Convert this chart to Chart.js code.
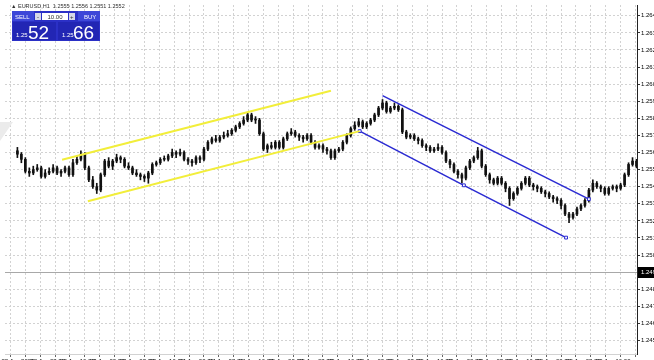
<!DOCTYPE html>
<html>
<head>
<meta charset="utf-8">
<script src="https://cdn.jsdelivr.net/npm/chart.js@4.4.1/dist/chart.umd.min.js"></script>
<style>
    html, body { margin: 0; padding: 0; background: #fff; }
    #wrap { width: 654px; height: 360px; position: relative; }
</style>
</head>
<body>
<div id="wrap"><canvas id="chart" width="654" height="360"></canvas></div>
<script>
// H1 bars (one value per bar)
const opens = [
    1.2561,1.2559,1.2556,1.2549,1.2548,1.2550,1.2551,1.2546,1.2548,1.2549,
    1.2551,1.2548,1.2549,1.2551,1.2547,1.2554,1.2556,1.2559,1.2551,1.2544,
    1.2540,1.2538,1.2547,1.2555,1.2552,1.2555,1.2557,1.2556,1.2552,1.2551,
    1.2548,1.2547,1.2546,1.2545,1.2548,1.2553,1.2554,1.2556,1.2556,1.2558,
    1.2560,1.2559,1.2560,1.2556,1.2555,1.2554,1.2557,1.2556,1.2562,1.2566,
    1.2568,1.2567,1.2569,1.2570,1.2571,1.2573,1.2575,1.2577,1.2579,1.2582,
    1.2579,1.2579,1.2571,1.2562,1.2564,1.2563,1.2566,1.2563,1.2568,1.2571,
    1.2572,1.2570,1.2569,1.2568,1.2570,1.2566,1.2563,1.2564,1.2562,1.2561,
    1.2557,1.2561,1.2562,1.2566,1.2570,1.2574,1.2576,1.2578,1.2575,1.2577,
    1.2579,1.2582,1.2586,1.2589,1.2584,1.2586,1.2587,1.2585,1.2572,1.2569,
    1.2570,1.2568,1.2567,1.2564,1.2563,1.2561,1.2562,1.2563,1.2560,1.2555,
    1.2553,1.2549,1.2547,1.2545,1.2551,1.2555,1.2557,1.2561,1.2552,1.2547,
    1.2544,1.2542,1.2545,1.2542,1.2539,1.2533,1.2536,1.2539,1.2542,1.2545,
    1.2541,1.2540,1.2539,1.2537,1.2536,1.2534,1.2533,1.2532,1.2529,1.2524,
    1.2522,1.2524,1.2527,1.2529,1.2532,1.2538,1.2542,1.2540,1.2539,1.2536,
    1.2539,1.2540,1.2539,1.2541,1.2547,1.2553,1.2555
];
const highs = [
    1.2563,1.2560,1.2557,1.2551,1.2552,1.2553,1.2552,1.2550,1.2551,1.2553,
    1.2552,1.2550,1.2552,1.2552,1.2556,1.2558,1.2561,1.2560,1.2552,1.2546,
    1.2542,1.2548,1.2556,1.2557,1.2556,1.2559,1.2558,1.2557,1.2554,1.2552,
    1.2550,1.2548,1.2547,1.2549,1.2554,1.2555,1.2557,1.2558,1.2559,1.2562,
    1.2561,1.2562,1.2561,1.2557,1.2556,1.2558,1.2558,1.2563,1.2567,1.2569,
    1.2570,1.2570,1.2572,1.2573,1.2574,1.2576,1.2578,1.2581,1.2583,1.2583,
    1.2581,1.2580,1.2572,1.2565,1.2566,1.2567,1.2567,1.2569,1.2572,1.2574,
    1.2573,1.2571,1.2570,1.2571,1.2571,1.2567,1.2565,1.2565,1.2563,1.2562,
    1.2562,1.2563,1.2567,1.2571,1.2575,1.2578,1.2580,1.2579,1.2578,1.2580,
    1.2583,1.2587,1.2591,1.2590,1.2587,1.2589,1.2588,1.2586,1.2573,1.2571,
    1.2571,1.2569,1.2568,1.2565,1.2564,1.2563,1.2565,1.2564,1.2561,1.2556,
    1.2554,1.2550,1.2548,1.2552,1.2556,1.2558,1.2563,1.2562,1.2553,1.2548,
    1.2545,1.2546,1.2546,1.2543,1.2540,1.2537,1.2540,1.2543,1.2546,1.2546,
    1.2542,1.2541,1.2540,1.2538,1.2537,1.2535,1.2534,1.2533,1.2530,1.2525,
    1.2525,1.2528,1.2530,1.2533,1.2539,1.2544,1.2543,1.2541,1.2540,1.2540,
    1.2541,1.2541,1.2542,1.2548,1.2554,1.2557,1.2556
];
const lows = [
    1.2557,1.2554,1.2548,1.2546,1.2547,1.2549,1.2545,1.2545,1.2547,1.2548,
    1.2547,1.2546,1.2548,1.2546,1.2546,1.2553,1.2555,1.2550,1.2543,1.2539,
    1.2536,1.2537,1.2546,1.2551,1.2550,1.2554,1.2554,1.2551,1.2550,1.2547,
    1.2546,1.2544,1.2543,1.2542,1.2547,1.2552,1.2553,1.2555,1.2555,1.2557,
    1.2557,1.2558,1.2555,1.2553,1.2552,1.2553,1.2554,1.2555,1.2561,1.2565,
    1.2566,1.2566,1.2568,1.2569,1.2570,1.2572,1.2574,1.2576,1.2578,1.2578,
    1.2577,1.2570,1.2561,1.2560,1.2562,1.2562,1.2562,1.2562,1.2567,1.2570,
    1.2569,1.2567,1.2566,1.2567,1.2565,1.2562,1.2562,1.2560,1.2559,1.2556,
    1.2556,1.2560,1.2561,1.2565,1.2569,1.2573,1.2575,1.2574,1.2574,1.2576,
    1.2578,1.2581,1.2585,1.2583,1.2583,1.2585,1.2584,1.2571,1.2568,1.2568,
    1.2567,1.2565,1.2563,1.2561,1.2560,1.2560,1.2561,1.2559,1.2554,1.2551,
    1.2548,1.2545,1.2542,1.2544,1.2550,1.2554,1.2556,1.2551,1.2546,1.2542,
    1.2541,1.2541,1.2541,1.2537,1.2529,1.2532,1.2535,1.2538,1.2541,1.2540,
    1.2538,1.2537,1.2536,1.2534,1.2533,1.2531,1.2530,1.2527,1.2523,1.2519,
    1.2521,1.2523,1.2526,1.2528,1.2531,1.2537,1.2539,1.2537,1.2535,1.2535,
    1.2538,1.2537,1.2538,1.2540,1.2546,1.2552,1.2551
];
const closes = [
    1.2559,1.2556,1.2549,1.2548,1.2550,1.2551,1.2546,1.2548,1.2549,1.2551,
    1.2548,1.2549,1.2551,1.2547,1.2554,1.2556,1.2559,1.2551,1.2544,1.2540,
    1.2538,1.2547,1.2555,1.2552,1.2555,1.2557,1.2556,1.2552,1.2551,1.2548,
    1.2547,1.2546,1.2545,1.2548,1.2553,1.2554,1.2556,1.2556,1.2558,1.2560,
    1.2559,1.2560,1.2556,1.2555,1.2554,1.2557,1.2556,1.2562,1.2566,1.2568,
    1.2567,1.2569,1.2570,1.2571,1.2573,1.2575,1.2577,1.2579,1.2582,1.2579,
    1.2579,1.2571,1.2562,1.2564,1.2563,1.2566,1.2563,1.2568,1.2571,1.2572,
    1.2570,1.2569,1.2568,1.2570,1.2566,1.2563,1.2564,1.2562,1.2561,1.2557,
    1.2561,1.2562,1.2566,1.2570,1.2574,1.2576,1.2578,1.2575,1.2577,1.2579,
    1.2582,1.2586,1.2589,1.2584,1.2586,1.2587,1.2585,1.2572,1.2569,1.2570,
    1.2568,1.2567,1.2564,1.2563,1.2561,1.2562,1.2563,1.2560,1.2555,1.2553,
    1.2549,1.2547,1.2545,1.2551,1.2555,1.2557,1.2561,1.2552,1.2547,1.2544,
    1.2542,1.2545,1.2542,1.2539,1.2533,1.2536,1.2539,1.2542,1.2545,1.2541,
    1.2540,1.2539,1.2537,1.2536,1.2534,1.2533,1.2532,1.2529,1.2524,1.2522,
    1.2524,1.2527,1.2529,1.2532,1.2538,1.2542,1.2540,1.2539,1.2536,1.2539,
    1.2540,1.2539,1.2541,1.2547,1.2553,1.2555,1.2552
];

// price scale labels (right side) and time labels (bottom)
const yTicks = [1.2640,1.2630,1.2620,1.2610,1.2600,1.2590,1.2580,1.2570,1.2560,1.2550,
                1.2540,1.2530,1.2520,1.2510,1.2500,1.2490,1.2480,1.2470,1.2460,1.2450];
const xTickLabels = ['22 Jun 2020','22 Jun 08:00','22 Jun 16:00','23 Jun 00:00','23 Jun 08:00',
    '23 Jun 16:00','24 Jun 00:00','24 Jun 08:00','24 Jun 16:00','25 Jun 00:00','25 Jun 08:00',
    '25 Jun 16:00','26 Jun 00:00','26 Jun 08:00','26 Jun 16:00','29 Jun 00:00','29 Jun 08:00',
    '29 Jun 16:00','30 Jun 00:00','30 Jun 08:00','30 Jun 16:00'];

// drawn channels: [bar index, price]
const yellowUpper = [[11.25, 1.25558], [79, 1.25961]];
const yellowLower = [[17.75, 1.25315], [86.25, 1.25725]];
const blueUpper = [[92, 1.25933], [144, 1.25327]];
const blueLower = [[86.25, 1.25725], [112.5, 1.25408], [138.25, 1.25102]];

const hLinePrice = 1.2490;
const symbolInfo = '\u25B2 EURUSD,H1  1.2555 1.2556 1.2551 1.2552';
const sellBig = '52', buyBig = '66', pricePrefix = '1.25', lotText = '10.00';

const FONT = "'Liberation Sans', Arial, sans-serif";

function toPts(arr) {
    return arr.map(p => ({ x: p[0], y: p[1] }));
}

const wicks = highs.map((h, i) => ({ x: i, y: [lows[i], h] }));
const bodies = opens.map((o, i) => ({ x: i, y: [o, closes[i]] }));

// overlays: price line, its label, header text, one-click panel
const overlay = {
    id: 'overlay',
    beforeDatasetsDraw(chart) {
        const ctx = chart.ctx;
        const area = chart.chartArea;
        const y = Math.round(chart.scales.y.getPixelForValue(hLinePrice)) + 0.5;
        ctx.save();
        ctx.strokeStyle = '#a8a8a8';
        ctx.lineWidth = 1;
        ctx.beginPath();
        ctx.moveTo(area.left, y);
        ctx.lineTo(area.right, y);
        ctx.stroke();
        // gray shift marker on the left edge
        ctx.fillStyle = '#ebebeb';
        ctx.beginPath();
        ctx.moveTo(0, 122);
        ctx.lineTo(13, 122);
        ctx.lineTo(0, 141);
        ctx.closePath();
        ctx.fill();
        ctx.restore();
    },
    afterDraw(chart) {
        const ctx = chart.ctx;
        const area = chart.chartArea;
        const y = Math.round(chart.scales.y.getPixelForValue(hLinePrice));
        ctx.save();
        ctx.fillStyle = '#000';
        ctx.fillRect(area.right + 1, y - 5, 20, 11);
        ctx.fillStyle = '#fff';
        ctx.font = '6px ' + FONT;
        ctx.textBaseline = 'middle';
        ctx.fillText(hLinePrice.toFixed(4), area.right + 4, y + 0.5);

        // header
        ctx.fillStyle = '#303030';
        ctx.font = '5.5px ' + FONT;
        ctx.textBaseline = 'alphabetic';
        ctx.fillText(symbolInfo, 11, 8);

        // one-click trading panel
        ctx.fillStyle = '#2b30c6';
        ctx.fillRect(12, 11, 88, 30);
        ctx.fillStyle = '#3d47d8';
        ctx.fillRect(12, 11, 22, 10);
        ctx.fillRect(78, 11, 22, 10);
        ctx.fillStyle = '#d6d8e8';
        ctx.fillRect(35, 13, 6, 7);
        ctx.fillRect(69, 13, 6, 7);
        ctx.fillStyle = '#fff';
        ctx.fillRect(42, 13, 26, 7);
        ctx.fillStyle = '#2226b4';
        ctx.fillRect(13, 22, 43, 18);
        ctx.fillRect(58, 22, 41, 18);

        ctx.fillStyle = '#fff';
        ctx.font = '6px ' + FONT;
        ctx.fillText('SELL', 15, 19);
        ctx.fillText('BUY', 84, 19);
        ctx.fillStyle = '#333';
        ctx.fillText('-', 37, 19);
        ctx.fillText('+', 70, 19);
        ctx.textAlign = 'center';
        ctx.fillText(lotText, 55, 19);
        ctx.textAlign = 'left';
        ctx.fillStyle = '#fff';
        ctx.fillText(pricePrefix, 16, 37);
        ctx.fillText(pricePrefix, 62, 37);
        ctx.font = '19px ' + FONT;
        ctx.fillText(sellBig, 28, 39);
        ctx.fillText(buyBig, 73, 39);
        ctx.restore();
    }
};

function lineSet(points, color, width, radius) {
    return {
        type: 'line',
        data: toPts(points),
        borderColor: color,
        borderWidth: width,
        pointRadius: radius,
        pointStyle: 'rect',
        pointBackgroundColor: '#ffffff',
        pointBorderColor: color,
        pointBorderWidth: 1,
        fill: false,
        order: 0
    };
}

new Chart(document.getElementById('chart'), {
    type: 'bar',
    data: {
        datasets: [
            {
                data: wicks,
                backgroundColor: '#111',
                barThickness: 1,
                maxBarThickness: 1,
                grouped: false,
                order: 2
            },
            {
                data: bodies,
                backgroundColor: '#111',
                borderWidth: 0,
                barThickness: 2,
                maxBarThickness: 2,
                minBarLength: 1,
                grouped: false,
                order: 1
            },
            lineSet(yellowUpper, '#f2ee3a', 2, 0),
            lineSet(yellowLower, '#f2ee3a', 2, 0),
            lineSet(blueUpper, '#2a2ad2', 1.5, [0, 2]),
            lineSet(blueLower, '#2a2ad2', 1.5, 2)
        ]
    },
    options: {
        responsive: false,
        devicePixelRatio: 1,
        animation: false,
        layout: { padding: 0 },
        plugins: {
            legend: { display: false },
            tooltip: { enabled: false }
        },
        scales: {
            x: {
                type: 'linear',
                offset: false,
                min: -3.125,
                max: 156.125,
                afterBuildTicks: scale => {
                    const t = [];
                    for (let v = 0.125; v <= 156; v += 3.75) t.push({ value: v });
                    scale.ticks = t;
                },
                afterFit: scale => {
                    scale.height = 6;
                    scale.paddingLeft = 0;
                    scale.paddingRight = 0;
                },
                grid: { color: '#d2d2d2', tickLength: 3, tickColor: '#666', tickBorderDash: [] },
                border: { color: '#d2d2d2', dash: [2, 2] },
                ticks: {
                    autoSkip: false,
                    maxRotation: 0,
                    padding: 1,
                    color: '#000',
                    font: { family: FONT, size: 6 },
                    callback: (v, i) => i % 2 === 0 ? (xTickLabels[i / 2] || '') : ''
                }
            },
            y: {
                position: 'right',
                min: 1.24421,
                max: 1.26463,
                afterBuildTicks: scale => {
                    scale.ticks = yTicks.map(v => ({ value: v }));
                },
                afterFit: scale => {
                    scale.width = 17;
                    scale.paddingTop = 0;
                    scale.paddingBottom = 0;
                },
                grid: { color: '#d2d2d2', tickLength: 3, tickColor: '#333', tickBorderDash: [] },
                border: { color: '#222', dash: [2, 2] },
                ticks: {
                    padding: 1,
                    color: '#000',
                    font: { family: FONT, size: 6 },
                    callback: v => Number(v).toFixed(4)
                }
            }
        }
    },
    plugins: [overlay]
});
</script>
</body>
</html>
